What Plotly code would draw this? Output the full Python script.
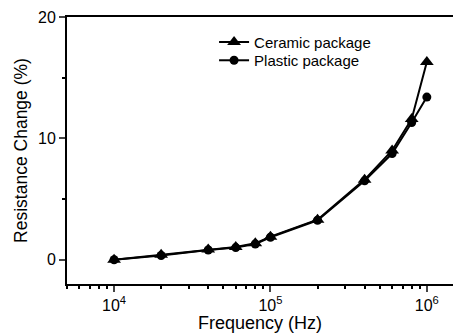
import plotly.graph_objects as go
import numpy as np

freq = [1e4, 2e4, 4e4, 6e4, 8e4, 1e5, 2e5, 4e5, 6e5, 8e5, 1e6]
ceramic = [0.0, 0.4, 0.85, 1.05, 1.35, 1.9, 3.3, 6.6, 9.0, 11.6, 16.3]
plastic = [0.0, 0.35, 0.8, 1.0, 1.3, 1.85, 3.25, 6.5, 8.75, 11.3, 13.4]

x_tickvals = [1e4, 1e5, 1e6]
x_ticktext = ["10<sup>4</sup>", "10<sup>5</sup>", "10<sup>6</sup>"]
x_minor = [m * 10 ** e for e in (3, 4, 5, 6) for m in range(2, 10) if 5e3 <= m * 10 ** e <= 1.5e6]
y_tickvals = [0, 10, 20]
y_minor = [5, 15]

fig = go.Figure()
fig.add_trace(go.Scatter(x=freq, y=plastic, name="Plastic package", mode="lines+markers",
                         line=dict(color="black", width=2), legend="legend2",
                         marker=dict(symbol="circle", size=9, color="black")))
fig.add_trace(go.Scatter(x=freq, y=ceramic, name="Ceramic package", mode="lines+markers",
                         line=dict(color="black", width=2), legend="legend",
                         marker=dict(symbol="triangle-up", size=12, color="black")))

leg_common = dict(xanchor="left", yanchor="middle", bgcolor="rgba(0,0,0,0)",
                  font=dict(size=15), itemwidth=30)

fig.update_layout(
    width=453, height=333,
    margin=dict(l=67, r=0, t=17, b=49),
    paper_bgcolor="white", plot_bgcolor="white",
    font=dict(family="Liberation Sans, Arial, sans-serif", color="black"),
    showlegend=True,
    legend=dict(x=0.381, y=0.905, **leg_common),
    legend2=dict(x=0.381, y=0.837, **leg_common),
    xaxis=dict(type="log", range=[np.log10(5000), np.log10(1.47e6)],
               tickvals=x_tickvals, ticktext=x_ticktext, ticks="outside", ticklen=6, tickwidth=2,
               showline=True, linewidth=2, linecolor="black", mirror=True, showgrid=False, zeroline=False,
               tickfont=dict(size=16),
               minor=dict(tickvals=x_minor, ticks="outside", ticklen=3, tickwidth=1.5, tickcolor="black"),
               title=dict(text="Frequency (Hz)", font=dict(size=18), standoff=2)),
    yaxis=dict(range=[-2, 20], tickvals=y_tickvals, ticks="outside", ticklen=6, tickwidth=2,
               showline=True, linewidth=2, linecolor="black", showgrid=False, zeroline=False,
               tickfont=dict(size=16),
               minor=dict(tickvals=y_minor, ticks="outside", ticklen=3, tickwidth=1.5, tickcolor="black"),
               title=dict(text="Resistance Change (%)", font=dict(size=17.5), standoff=6)),
)

fig.write_html("out.html", config={"displayModeBar": False},
               post_script="document.body.style.margin='0';")
